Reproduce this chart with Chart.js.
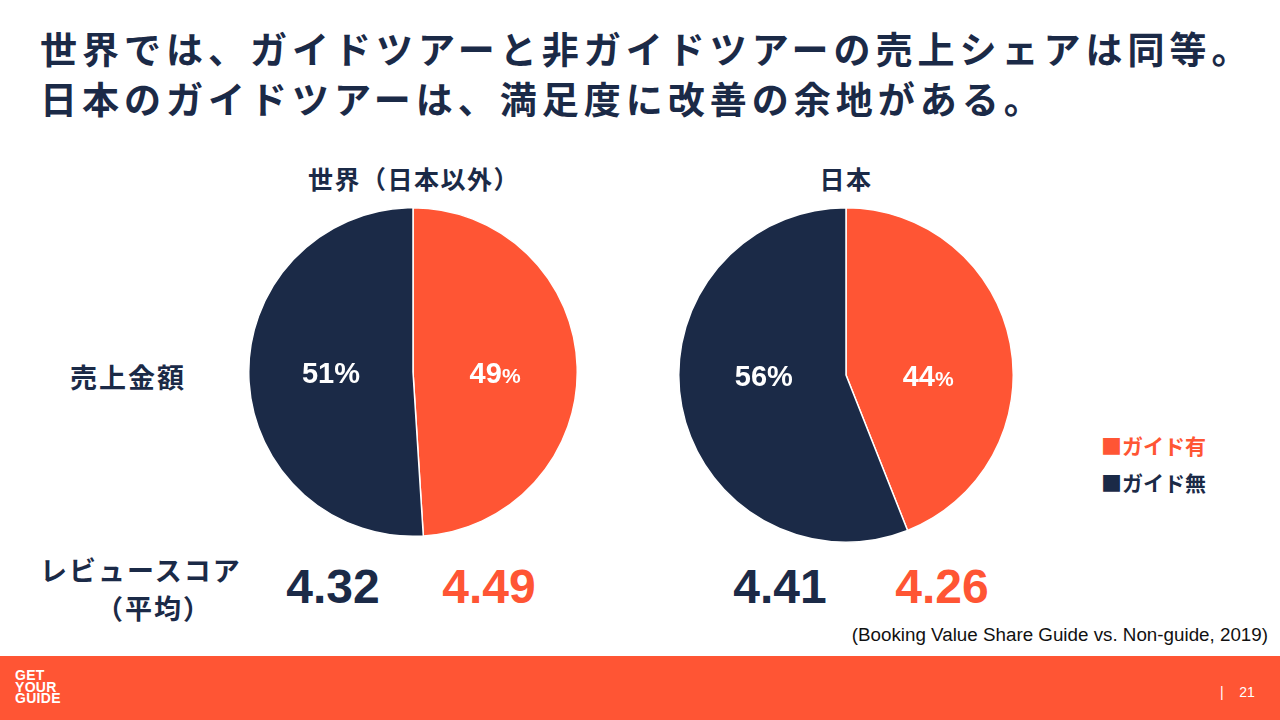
<!DOCTYPE html>
<html lang="ja">
<head>
<meta charset="utf-8">
<script src="https://cdn.jsdelivr.net/npm/chart.js@4/dist/chart.umd.min.js"></script>
<style>
  html,body{margin:0;padding:0;}
  body{width:1280px;height:720px;position:relative;overflow:hidden;background:#fff;
       font-family:"Noto Sans CJK JP","Noto Sans",sans-serif;color:#1B2A47;}
  .abs{position:absolute;}
  #title{left:40px;top:23px;font-size:37px;font-weight:700;line-height:50px;letter-spacing:5px;white-space:nowrap;}
  .ptitle{font-size:25px;font-weight:700;letter-spacing:1.5px;transform:translateX(-50%);white-space:nowrap;}
  .rowlab{font-size:27px;font-weight:700;letter-spacing:2px;white-space:nowrap;}
  .score{font-family:"Liberation Sans",Arial,sans-serif;font-weight:700;font-size:48px;transform:translate(-50%,-50%);}
  .legend{font-size:21px;font-weight:700;white-space:nowrap;}
  #source{right:12px;top:624px;font-family:"Liberation Sans",Arial,sans-serif;font-size:18.8px;color:#111;}
  #footer{left:0;top:656px;width:1280px;height:64px;background:#FF5534;}
  #logo{left:15px;top:670px;font-family:"Liberation Sans",Arial,sans-serif;font-weight:700;font-size:14px;line-height:11.5px;color:#fff;letter-spacing:0.3px;}
  #page{left:1220px;top:684px;font-family:"Liberation Sans",Arial,sans-serif;font-size:14px;color:#fff;white-space:pre;}
</style>
</head>
<body>
<div id="title" class="abs">世界では、ガイドツアーと非ガイドツアーの売上シェアは同等。<br>日本のガイドツアーは、満足度に改善の余地がある。</div>

<div class="abs ptitle" style="left:414px;top:160px;" id="pt0"></div>
<div class="abs ptitle" style="left:846px;top:160px;" id="pt1"></div>

<div class="abs rowlab" style="left:70px;top:357px;">売上金額</div>
<div class="abs rowlab" style="left:40px;top:550px;">レビュースコア</div>
<div class="abs rowlab" style="left:96px;top:588px;">（平均）</div>

<div class="abs" style="left:248px;top:207px;width:330px;height:330px;"><canvas id="c0"></canvas></div>
<div class="abs" style="left:678px;top:207px;width:336px;height:336px;"><canvas id="c1"></canvas></div>

<div class="abs score" id="s00" style="left:333px;top:586px;"></div>
<div class="abs score" id="s01" style="left:489px;top:586px;"></div>
<div class="abs score" id="s10" style="left:780px;top:586px;"></div>
<div class="abs score" id="s11" style="left:942px;top:586px;"></div>

<div class="abs legend" id="lg0" style="left:1101px;top:430px;"></div>
<div class="abs legend" id="lg1" style="left:1101px;top:467px;"></div>

<div id="source" class="abs">(Booking Value Share Guide vs. Non-guide, 2019)</div>
<div id="footer" class="abs"></div>
<div id="logo" class="abs">GET<br>YOUR<br>GUIDE</div>
<div id="page" class="abs">|    21</div>

<script>
// ---- data ----
const regions = ["世界（日本以外）", "日本"];
const categories = ["ガイド有", "ガイド無"];
const shareWorld = [49, 51];
const shareJapan = [44, 56];
const reviewWorld = [4.49, 4.32];   // ガイド有, ガイド無
const reviewJapan = [4.26, 4.41];
const seriesColors = ["#FF5534", "#1B2A47"];

// ---- static text from data ----
document.getElementById("pt0").textContent = regions[0];
document.getElementById("pt1").textContent = regions[1];
categories.forEach((c, i) => {
  const el = document.getElementById("lg" + i);
  el.textContent = "■" + c;
  el.style.color = seriesColors[i];
});
const scoreSets = [reviewWorld, reviewJapan];
scoreSets.forEach((arr, k) => {
  const l = document.getElementById("s" + k + "0");
  const r = document.getElementById("s" + k + "1");
  l.textContent = arr[1].toFixed(2); l.style.color = seriesColors[1];
  r.textContent = arr[0].toFixed(2); r.style.color = seriesColors[0];
});

// ---- percent label plugin ----
const pctLabels = {
  id: "pctLabels",
  afterDatasetsDraw(chart) {
    const ctx = chart.ctx;
    const meta = chart.getDatasetMeta(0);
    const data = chart.data.datasets[0].data;
    meta.data.forEach((arc, i) => {
      const p = arc.getProps(["x", "y", "startAngle", "endAngle", "outerRadius"], true);
      const mid = (p.startAngle + p.endAngle) / 2;
      const x = p.x + Math.cos(mid) * p.outerRadius * 0.5;
      const y = p.y + 3;
      const num = String(data[i]);
      const bigF = "700 29px 'Liberation Sans', Arial, sans-serif";
      const pctF = i === 0 ? "700 21px 'Liberation Sans', Arial, sans-serif" : bigF;
      ctx.save();
      ctx.fillStyle = "#ffffff";
      ctx.textBaseline = "middle";
      ctx.font = bigF; const w1 = ctx.measureText(num).width;
      ctx.font = pctF; const w2 = ctx.measureText("%").width;
      let sx = x - (w1 + w2) / 2;
      ctx.textAlign = "left";
      ctx.font = bigF; ctx.fillText(num, sx, y);
      ctx.font = pctF; ctx.fillText("%", sx + w1, y + (i === 0 ? 2 : 0));
      ctx.restore();
    });
  }
};

function makePie(id, values) {
  return new Chart(document.getElementById(id), {
    type: "pie",
    data: {
      labels: categories,
      datasets: [{
        data: values,
        backgroundColor: seriesColors,
        borderColor: "#ffffff",
        borderWidth: 1.5,
        hoverOffset: 0
      }]
    },
    options: {
      responsive: true,
      maintainAspectRatio: false,
      animation: false,
      events: [],
      layout: { padding: 0 },
      plugins: { legend: { display: false }, tooltip: { enabled: false } }
    },
    plugins: [pctLabels]
  });
}
makePie("c0", shareWorld);
makePie("c1", shareJapan);
</script>
</body>
</html>
